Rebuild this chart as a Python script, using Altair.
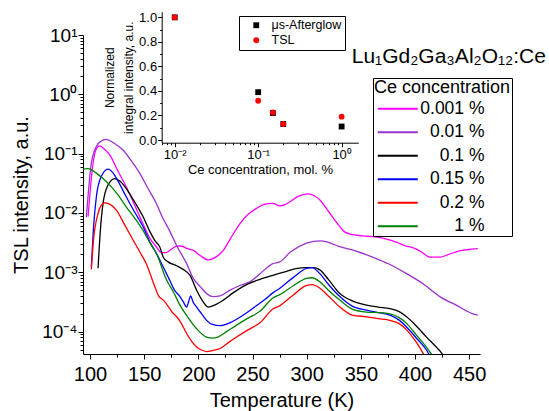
import altair as alt
import pandas as pd

# ---------------- main TSL curves ----------------
series_names = ["0.001 %", "0.01 %", "0.1 %", "0.15 %", "0.2 %", "1 %"]
series_colors = ["#FF00FF", "#9B30D0", "#000000", "#0000FF", "#FF0000", "#008000"]

T_0001 = [98.2, 102.8, 105.5, 109, 113, 118.2, 125.5, 133.5, 141, 148.9, 155, 161.2, 166, 170, 175,
          181, 185, 190, 195.3, 202, 209.1, 216, 223, 230, 238.4, 246, 253.8, 260, 268.8, 275.3,
          280, 284.5, 292, 301.1, 307, 312.2, 320, 327.9, 335, 342.6, 352, 361.1, 372, 383.2, 391,
          398, 406, 413.7, 423, 431, 438.6, 448, 458]
I_0001 = [0.0087, 0.069, 0.117, 0.135, 0.120, 0.095, 0.052, 0.0275, 0.0138, 0.0066, 0.0038, 0.0027,
          0.00214, 0.00214, 0.00245, 0.0028, 0.00275, 0.0025, 0.00234, 0.0019, 0.00162, 0.0018,
          0.00234, 0.0038, 0.0066, 0.0095, 0.012, 0.0138, 0.0145, 0.0132, 0.0138, 0.0155, 0.019,
          0.021, 0.0195, 0.0166, 0.0107, 0.0068, 0.0048, 0.0043, 0.0041, 0.0040, 0.0037, 0.0032,
          0.0028, 0.0026, 0.0022, 0.0018, 0.0018, 0.0020, 0.00224, 0.0024, 0.0025]

T_001 = [96.6, 101.2, 105.8, 110, 115, 122, 130.4, 138, 145.8, 153, 161.2, 167, 173.5, 180, 189.2,
         195.3, 201.5, 207, 213.8, 220, 229.2, 238.4, 247.6, 257, 268.8, 275.3, 285, 299.9, 312.2,
         320, 330.6, 345, 361, 376, 392.2, 408, 422.9, 438, 453.3, 458]
I_001 = [0.0085, 0.069, 0.132, 0.162, 0.174, 0.151, 0.115, 0.076, 0.047, 0.0269, 0.0145, 0.0083,
         0.0050, 0.0028, 0.0014, 0.00079, 0.00058, 0.00045, 0.00039, 0.0004, 0.0005, 0.0006,
         0.00069, 0.00095, 0.0014, 0.0015, 0.0022, 0.0031, 0.0034, 0.0032, 0.0027, 0.0023, 0.0018,
         0.00138, 0.00095, 0.00063, 0.00039, 0.00028, 0.0002, 0.00019]

T_01 = [107.4, 109.5, 112, 116.6, 122.7, 128, 133.5, 140, 148.9, 155.4, 160, 164.3, 167.6, 172, 180,
        186, 192.3, 198.4, 203, 209.1, 215, 223, 232, 241.4, 256.8, 268.8, 280, 290, 299.9, 306,
        312.2, 320, 330.6, 342, 355.2, 366, 376.8, 385, 392.2, 401, 410.6, 418, 424.4, 428]
I_01 = [0.00117, 0.005, 0.0145, 0.0295, 0.038, 0.034, 0.0257, 0.0166, 0.0087, 0.0048, 0.0034, 0.0027,
        0.0018, 0.0015, 0.00129, 0.00112, 0.00089, 0.0005, 0.00035, 0.00026, 0.00028, 0.00034,
        0.00045, 0.00058, 0.00076, 0.00089, 0.00102, 0.00115, 0.0012, 0.0012, 0.0011, 0.00076,
        0.00044, 0.00033, 0.00028, 0.00026, 0.000245, 0.00022, 0.000178, 0.000126, 0.000081,
        0.000059, 0.000044, 0.000035]

T_015 = [101.2, 103, 105.8, 110, 116.6, 121, 127, 133.5, 141, 148.9, 155.4, 161.2, 167.6, 173.5, 178,
         183, 186, 189.2, 191, 192.9, 195, 198.4, 203, 207.6, 213, 220, 228, 235.3, 245, 253.8, 262,
         268.8, 275.3, 288, 299.9, 305, 312.2, 320, 330.6, 342, 355.2, 366, 376.8, 385, 392.2, 401,
         410.6, 415]
I_015 = [0.00123, 0.005, 0.0186, 0.040, 0.055, 0.048, 0.0316, 0.0186, 0.0105, 0.0059, 0.0032, 0.0021,
         0.00123, 0.00074, 0.0005, 0.00039, 0.00032, 0.00026, 0.00032, 0.0004, 0.00032, 0.00026,
         0.0002, 0.000155, 0.000132, 0.000126, 0.000138, 0.000162, 0.00021, 0.000275, 0.000355,
         0.00045, 0.00054, 0.00083, 0.00117, 0.0012, 0.00095, 0.00063, 0.00039, 0.00027, 0.00023,
         0.00021, 0.00019, 0.000158, 0.00012, 0.000079, 0.000049, 0.000035]

T_02 = [101.2, 103, 107.4, 110, 113.5, 118, 124.3, 132, 139.7, 146, 151.9, 159.7, 163.3, 167.6, 172,
        176, 180, 184, 189.2, 194, 198.4, 203, 207.6, 213, 220, 228, 235.3, 245, 256.8, 268.8, 275.3,
        288, 299.9, 305, 312.2, 320, 330.6, 342, 355.2, 366, 376.8, 385, 392.2, 400, 407.5, 410]
I_02 = [0.00112, 0.0032, 0.0098, 0.0132, 0.0148, 0.0141, 0.0112, 0.0063, 0.0035, 0.0022, 0.0014,
        0.00058, 0.0004, 0.00034, 0.00027, 0.00021, 0.000178, 0.000141, 0.000093, 0.000068,
        0.000055, 0.000049, 0.000046, 0.000048, 0.000052, 0.000066, 0.000081, 0.000105, 0.000141,
        0.00024, 0.000275, 0.00042, 0.0006, 0.00062, 0.00054, 0.0004, 0.00026, 0.00019, 0.000178,
        0.000166, 0.000155, 0.000138, 0.000107, 0.000071, 0.000043, 0.000035]

T_1 = [93.5, 98, 101, 105.8, 112, 118.2, 126, 133.5, 141, 148.9, 155.4, 161.2, 170.7, 176.6, 183, 190,
       198.4, 207.6, 213, 218, 226, 235.3, 245, 256.8, 268.8, 275.3, 288, 299.9, 305, 312.2, 320,
       330.6, 342, 355.2, 366, 376.8, 385, 392.2, 401, 410.6, 416, 419]
I_1 = [0.055, 0.056, 0.054, 0.047, 0.038, 0.0295, 0.020, 0.0126, 0.0083, 0.0051, 0.0031, 0.0021,
       0.00074, 0.00048, 0.00028, 0.000178, 0.000112, 0.000081, 0.000078, 0.000081, 0.0001, 0.000129,
       0.000166, 0.00022, 0.00037, 0.00042, 0.0006, 0.00079, 0.00081, 0.00069, 0.0005, 0.00034,
       0.00024, 0.000214, 0.00021, 0.0002, 0.000174, 0.000138, 0.000089, 0.000055, 0.00004, 0.000035]

# ---------------- inset (normalized integral intensity) ----------------
conc = [0.01, 0.1, 0.15, 0.2, 1.0]
afterglow = [1.0, 0.39, 0.22, 0.13, 0.11]
tsl = [1.0, 0.32, 0.225, 0.13, 0.19]
methods = ["\u03bcs-Afterglow", "TSL"]

# ---------------- tables ----------------
rows = []
for name, ts, vs in zip(series_names, [T_0001, T_001, T_01, T_015, T_02, T_1],
                        [I_0001, I_001, I_01, I_015, I_02, I_1]):
    for i, (t, v) in enumerate(zip(ts, vs)):
        rows.append({"series": name, "idx": i, "T": t, "I": v})
df = pd.DataFrame(rows)

inset_rows = []
for m, vals in zip(methods, [afterglow, tsl]):
    for c, v in zip(conc, vals):
        inset_rows.append({"method": m, "conc": c, "norm": v})
inset_df = pd.DataFrame(inset_rows)

FONT = "Liberation Sans"
W, H = 397, 319

# main axes
x_ticks = list(range(100, 451, 25))
x_axis = alt.Axis(
    values=x_ticks, orient="bottom", title="Temperature (K)",
    labelExpr="datum.value % 50 == 0 ? datum.label : ''",
    tickSize={"condition": {"test": "datum.value % 50 == 0", "value": 5}, "value": 3},
    labelFontSize=20, titleFontSize=20, labelPadding=5, titlePadding=6,
    labelFlush=False, labelOverlap=False,
)
y_major = [0.0001, 0.001, 0.01, 0.1, 1, 10]
y_minor = [k * 10.0 ** e for e in range(-5, 1) for k in range(2, 10) if k * 10.0 ** e > 4.2e-5]
y_axis = alt.Axis(
    values=y_major + y_minor, orient="left", title="TSL intensity, a.u.",
    labelExpr=("datum.value == 10 ? '10\u00b9' : datum.value == 1 ? '10\u2070' : "
               "datum.value == 0.1 ? '10\u207b\u00b9' : datum.value == 0.01 ? '10\u207b\u00b2' : "
               "datum.value == 0.001 ? '10\u207b\u00b3' : datum.value == 0.0001 ? '10\u207b\u2074' : ''"),
    tickSize={"condition": {"test": "indexof([10,1,0.1,0.01,0.001,0.0001], datum.value) >= 0",
                            "value": 5}, "value": 3},
    labelFontSize=19, titleFontSize=20, labelPadding=1, titlePadding=10,
    labelFlush=False, labelOverlap=False,
)

main = alt.Chart(df).mark_line(clip=True, strokeWidth=1.3, interpolate="monotone").encode(
    x=alt.X("T:Q", scale=alt.Scale(domain=[93.5, 460], nice=False, zero=False), axis=x_axis),
    y=alt.Y("I:Q", scale=alt.Scale(type="log", domain=[4.2e-5, 10], nice=False), axis=y_axis),
    color=alt.Color(
        "series:N",
        scale=alt.Scale(domain=series_names, range=series_colors),
        legend=alt.Legend(
            title="Ce concentration", orient="none", legendX=290, legendY=43,
            symbolType="M-4,0H4", symbolSize=100, symbolStrokeWidth=2, symbolOffset=15,
            labelFontSize=17.5, titleFontSize=18, titleFontWeight="normal",
            labelAlign="right", labelOffset=78, rowPadding=4.5, titlePadding=3,
            padding=1, strokeColor="black", fillColor="white",
        ),
    ),
    order=alt.Order("idx:Q"),
)

# inset axes
ix_ticks = [0.007, 0.008, 0.009] + [k * 0.01 for k in range(1, 10)] + [k * 0.1 for k in range(1, 10)] + [1.0]
inset_x_axis = alt.Axis(
    values=ix_ticks, orient="bottom", offset=-211.3, title="Ce concentration, mol. %",
    labelExpr=("datum.value == 0.01 ? '10\u207b\u00b2' : datum.value == 0.1 ? '10\u207b\u00b9' : "
               "datum.value == 1 ? '10\u2070' : ''"),
    tickSize={"condition": {"test": "indexof([0.01,0.1,1], datum.value) >= 0", "value": 4},
              "value": 2},
    labelFontSize=13, titleFontSize=13, labelPadding=2, titlePadding=2,
    labelFlush=False, labelOverlap=False,
)
iy_ticks = [round(0.1 * k, 1) for k in range(0, 11)]
inset_y_axis = alt.Axis(
    values=iy_ticks, orient="left", offset=-78.7,
    title=["Normalized", "integral intensity, a.u."],
    labelExpr="round(datum.value * 10) % 2 == 0 ? format(datum.value, '.1f') : ''",
    tickSize={"condition": {"test": "round(datum.value * 10) % 2 == 0", "value": 4}, "value": 2},
    labelFontSize=13, titleFontSize=12, titleLineHeight=19, labelPadding=1, titlePadding=3,
    labelFlush=False, labelOverlap=False,
)
inset_legend = alt.Legend(
    title=None, orient="none", legendX=156, legendY=-19, labelFontSize=12.5,
    symbolSize=34, symbolOffset=8, labelOffset=9, rowPadding=2, padding=3,
    strokeColor="black", fillColor="white",
)

inset = alt.Chart(inset_df).mark_point(filled=True, size=34, opacity=1, clip=False).encode(
    x=alt.X("conc:Q", scale=alt.Scale(type="log", domain=[0.00698, 1.585], range=[78.7, 275.3],
                                      nice=False), axis=inset_x_axis),
    y=alt.Y("norm:Q", scale=alt.Scale(domain=[-0.022, 1.046], range=[107.7, -23.3], nice=False,
                                      zero=False), axis=inset_y_axis),
    color=alt.Color("method:N", scale=alt.Scale(domain=methods, range=["#000000", "#FF0000"]),
                    legend=inset_legend),
    shape=alt.Shape("method:N", scale=alt.Scale(domain=methods, range=["square", "circle"]),
                    legend=inset_legend),
)

chart = (
    alt.layer(main, inset)
    .resolve_scale(x="independent", y="independent", color="independent", shape="independent")
    .resolve_axis(x="independent", y="independent")
    .resolve_legend(color="independent", shape="independent")
    .properties(
        width=W, height=H,
        autosize=alt.AutoSizeParams(type="none"),
        padding={"left": 83, "top": 35, "right": 549 - 83 - W, "bottom": 411 - 35 - H},
        title=alt.Title(
            "Lu\u2081Gd\u2082Ga\u2083Al\u2082O\u2081\u2082:Ce", anchor="start", frame="group",
            orient="top", offset=0, dx=268.7, dy=73, baseline="alphabetic",
            fontSize=21, font=FONT, fontWeight="normal", color="black",
        ),
    )
    .configure_view(stroke=None)
    .configure_axis(
        grid=False, labelFont=FONT, titleFont=FONT, labelColor="black", titleColor="black",
        domainColor="black", tickColor="black", titleFontWeight="normal", domainWidth=1,
        tickWidth=1,
    )
    .configure_legend(labelFont=FONT, titleFont=FONT, labelColor="black", titleColor="black")
)

chart.save("out.html", embed_options={"renderer": "svg", "actions": False})
